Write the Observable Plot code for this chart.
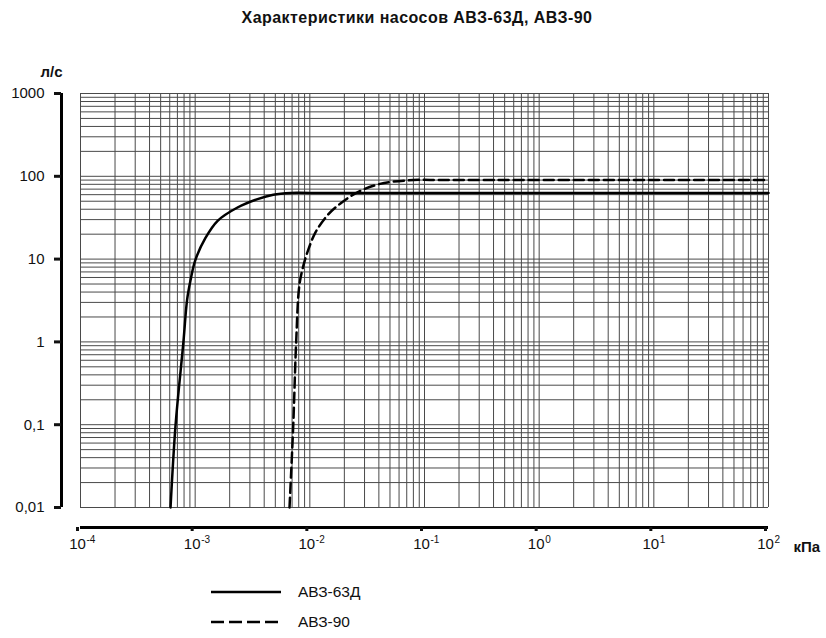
<!DOCTYPE html>
<html>
<head>
<meta charset="utf-8">
<script src="https://cdn.jsdelivr.net/npm/d3@7"></script>
<script src="https://cdn.jsdelivr.net/npm/@observablehq/plot@0.6"></script>
<style>
  body { margin: 0; background: #fff; font-family: "Liberation Sans", Arial, sans-serif; }
  #title { height: 36px; width: 826px; text-align: center; font-weight: bold; font-size: 16px;
           letter-spacing: 0.45px; line-height: 36px; color: #111; padding-left: 8px; box-sizing: border-box; }
  #chart { position: absolute; left: 0; top: 36px; }
  .leg { position: absolute; left: 211px; font-size: 15.5px; color: #111; display: flex; align-items: center; }
  .leg span { margin-left: 17px; }
</style>
</head>
<body>
<div id="title">Характеристики насосов АВЗ-63Д, АВЗ-90</div>
<div id="chart"></div>
<div class="leg" style="top:583px"><svg width="70" height="18"><line x1="0" x2="70" y1="9" y2="9" stroke="#000" stroke-width="2.5"/></svg><span>АВЗ-63Д</span></div>
<div class="leg" style="top:613px"><svg width="70" height="18"><line x1="0" x2="70" y1="9" y2="9" stroke="#000" stroke-width="2.5" stroke-dasharray="13,5"/></svg><span>АВЗ-90</span></div>
<script>
// АВЗ-63Д: давление (кПа) и быстрота действия (л/с)
const pump63Pressure = [6.1e-4, 6.75e-4, 7.9e-4, 8.5e-4, 9.1e-4, 1.0e-3, 1.23e-3, 1.57e-3, 2.34e-3, 3.5e-3, 4.8e-3, 6.8e-3, 1e-2, 100];
const pump63Flow     = [0.01,   0.1,     1,      3.2,    5.5,    9.6,    18,      29,      42,      53,     60,     63,     63,   63];

// АВЗ-90
const pump90Pressure = [6.65e-3, 7.17e-3, 7.6e-3, 8.1e-3, 8.8e-3, 9.7e-3, 1.12e-2, 1.43e-2, 1.85e-2, 2.6e-2, 4.1e-2, 8.0e-2, 0.15, 100];
const pump90Flow     = [0.01,    0.1,     1,      4.8,    8.4,    13,     21,      34,      47,      64,     81,     90,     90,   90];

const xDecades = [1e-4, 1e-3, 1e-2, 1e-1, 1, 10, 100];
const xExponents = ["-4", "-3", "-2", "-1", "0", "1", "2"];
const yDecades = [0.01, 0.1, 1, 10, 100, 1000];
const yLabels = ["0,01", "0,1", "1", "10", "100", "1000"];

// линии сетки 1..9 в каждой декаде
const minor = (decades) => decades.slice(0, -1)
  .flatMap((d) => d3.range(1, 10).map((k) => +(d * k).toPrecision(3)))
  .concat(decades[decades.length - 1]);
const xGrid = minor(xDecades);
const yGrid = minor(yDecades);

const pump63 = pump63Pressure.map((p, i) => ({p, q: pump63Flow[i]}));
const pump90 = pump90Pressure.map((p, i) => ({p, q: pump90Flow[i]}));

const yLabel = (d) => yLabels[yDecades.findIndex((v) => Math.abs(Math.log10(v) - Math.log10(d)) < 1e-6)];

const chart = Plot.plot({
  width: 826,
  height: 540,
  marginLeft: 80,
  marginRight: 58,
  marginTop: 57,
  marginBottom: 69,
  style: {fontFamily: "Liberation Sans, Arial, sans-serif", color: "#111"},
  x: {type: "log", domain: [1e-4, 100], axis: null},
  y: {type: "log", domain: [0.01, 1000], axis: null},
  marks: [
    Plot.ruleX(xGrid, {stroke: "#4a4a4a", strokeWidth: 1}),
    Plot.ruleY(yGrid, {stroke: "#4a4a4a", strokeWidth: 1}),

    // ось Y
    Plot.ruleX([1e-4], {y1: 0.01, y2: 1000, dx: -19, strokeWidth: 3, stroke: "#000"}),
    Plot.axisY({ticks: yDecades, text: null, tickSize: 7, dx: -19, strokeWidth: 3, label: null}),
    Plot.text(yDecades, {x: 1e-4, y: (d) => d, text: yLabel, dx: -36, textAnchor: "end", fontSize: 15}),
    Plot.text(["л/с"], {x: [1e-4], y: [1000], dx: -29, dy: -21, fontWeight: "bold", fontSize: 15}),

    // ось X
    Plot.ruleY([0.01], {x1: 1e-4, x2: 100, dy: 20, strokeWidth: 3, stroke: "#000"}),
    Plot.axisX({anchor: "bottom", ticks: xDecades, tickFormat: () => "10", tickSize: 4, tickPadding: 7,
      dy: 20, dx: -3, strokeWidth: 3, fontSize: 15, label: null}),
    Plot.text(xDecades, {x: (d) => d, y: 0.01, text: (d, i) => xExponents[i], dx: 6, dy: 32,
      textAnchor: "start", fontSize: 10}),
    Plot.text(["кПа"], {x: [100], y: [0.01], dx: 25, dy: 40, textAnchor: "start", fontWeight: "bold", fontSize: 15}),

    // кривые
    Plot.line(pump63, {x: "p", y: "q", curve: "catmull-rom", stroke: "#000", strokeWidth: 2.5}),
    Plot.line(pump90, {x: "p", y: "q", curve: "catmull-rom", stroke: "#000", strokeWidth: 2.5,
      strokeDasharray: "10,5"})
  ]
});
document.getElementById("chart").append(chart);
</script>
</body>
</html>
